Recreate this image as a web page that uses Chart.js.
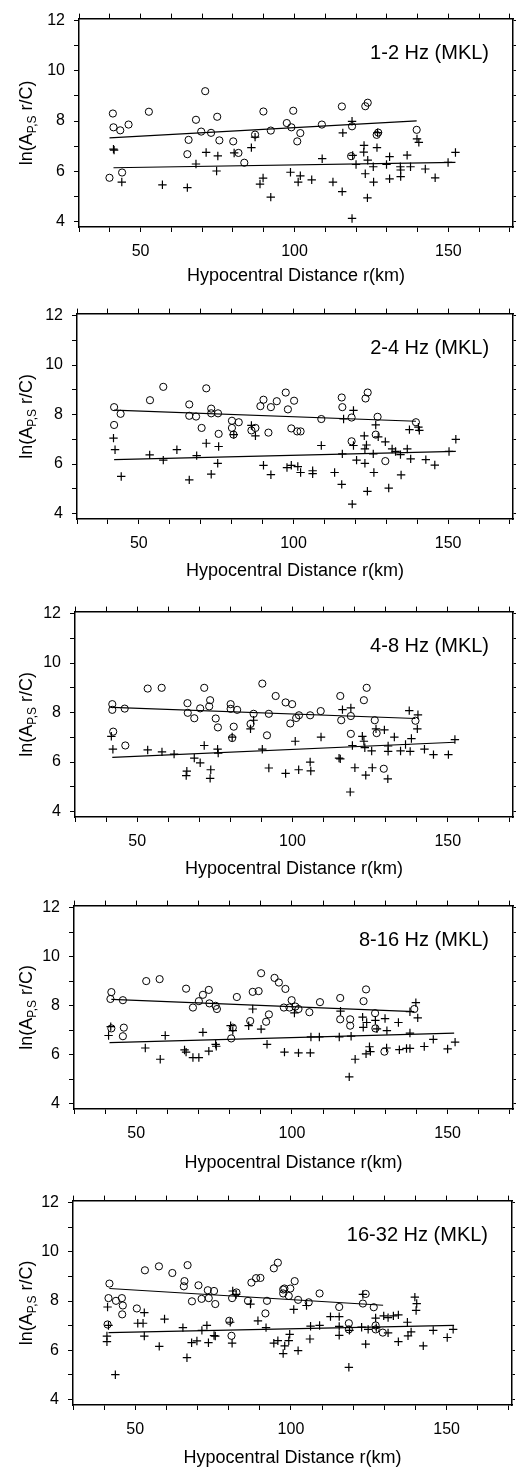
<!DOCTYPE html>
<html>
<head>
<meta charset="utf-8">
<script src="https://cdn.jsdelivr.net/npm/chart.js@4.4.0/dist/chart.umd.min.js"></script>
<style>
  html, body { margin: 0; padding: 0; background: #fff; }
  #wrap { position: relative; width: 520px; height: 1467px; }
  canvas { position: absolute; left: 0; }
</style>
</head>
<body>
<div id="wrap"></div>
<script>
// ---- data: [distance km, ln(A r/C)] ----
const bandLabels = ["1-2 Hz (MKL)", "2-4 Hz (MKL)", "4-8 Hz (MKL)", "8-16 Hz (MKL)", "16-32 Hz (MKL)"];
const xTitle = "Hypocentral Distance r(km)";
const yTitleParts = ["ln(A", "P,S", " r/C)"];
const xTicks = [30, 40, 50, 60, 70, 80, 90, 100, 110, 120, 130, 140, 150, 160, 170];
const xLabelTicks = [50, 100, 150];
const yTicks = [4, 5, 6, 7, 8, 9, 10, 11, 12];
const yLabelTicks = [4, 6, 8, 10, 12];

// circles (one phase) and crosses (other phase), per band
const band1Circles = [[39.9,5.74],[41,8.3],[41.2,7.75],[43.4,7.63],[44,5.95],[46.1,7.86],[52.7,8.37],[65.6,7.25],[65.2,6.68],[68,8.05],[69.7,7.58],[71,9.19],[72.9,7.53],[74.9,8.17],[75.6,7.23],[80.1,7.19],[81.8,6.73],[83.7,6.34],[87.2,7.46],[89.9,8.38],[92.3,7.62],[97.5,7.92],[99,7.75],[99.6,8.41],[100.9,7.19],[101.9,7.52],[108.9,7.86],[115.4,8.58],[118.4,6.6],[118.7,7.79],[123,8.59],[123.8,8.73],[126.7,7.45],[127.2,7.54],[139.7,7.65]];
const band1Crosses = [[41.2,6.88],[41.4,6.84],[43.9,5.57],[57.1,5.46],[65.2,5.35],[68,6.29],[71.3,6.75],[75.1,6.61],[74.7,6.01],[80.4,6.73],[86,6.94],[87.2,7.36],[88.8,5.49],[89.8,5.73],[92.3,4.97],[98.7,5.96],[101.9,5.82],[101.2,5.57],[105.6,5.66],[109,6.5],[112.5,5.57],[115.5,5.19],[115.7,7.53],[118.7,4.12],[118.7,7.99],[118.9,6.63],[120,6.27],[122.6,7.03],[122.5,6.76],[123,5.9],[123.7,4.94],[123.8,6.44],[125.6,6.18],[125.7,5.57],[126.8,6.94],[127,7.54],[129.9,6.27],[130.9,6.58],[130.9,5.7],[134.4,6.18],[134.5,6.05],[134.5,5.79],[136.6,6.64],[137.7,6.18],[139.8,7.29],[140.4,7.15],[142.5,6.09],[145.7,5.74],[149.9,6.35],[152.3,6.75]];
const band1CircleFit = [[39.9,7.33],[139.7,8.01]];
const band1CrossFit = [[41.2,6.14],[152.3,6.35]];

const band2Circles = [[42,8.3],[42,7.58],[44.1,8.03],[53.6,8.58],[57.9,9.12],[66.3,8.41],[66.3,7.95],[68.5,7.92],[70.3,7.46],[71.8,9.06],[73.4,8.24],[73.4,8.05],[75.6,8.05],[75.8,7.22],[80.1,7.75],[80.1,7.46],[80.6,7.19],[82.3,7.69],[86.4,7.36],[87.7,7.46],[89.3,8.34],[90.3,8.6],[91.9,7.27],[92.7,8.3],[94.6,8.54],[97.5,8.89],[98.2,8.21],[99.3,7.44],[100.2,8.56],[101.2,7.32],[102.3,7.32],[109,7.82],[115.6,8.69],[115.8,8.3],[118.8,7.88],[118.8,6.92],[123.3,8.65],[124,8.89],[126.6,7.19],[127.2,7.91],[129.7,6.12],[139.6,7.69]];
const band2Crosses = [[41.8,7.05],[42.3,6.58],[44.3,5.5],[53.5,6.37],[57.9,6.16],[62.3,6.58],[66.3,5.36],[68.7,6.34],[71.8,6.84],[73.4,5.59],[75.5,6.03],[75.8,6.71],[80.7,7.19],[86.4,7.56],[87.7,7.14],[90.3,5.95],[92.7,5.57],[97.9,5.86],[99.3,5.95],[101.4,5.9],[102.3,5.66],[106.2,5.73],[106.2,5.61],[109,6.75],[113.3,5.66],[115.6,5.18],[115.8,6.41],[116.2,7.82],[119,4.38],[119.4,8.17],[119.4,6.75],[120.4,6.16],[122.9,7.14],[123.1,6.61],[123.1,6.03],[123.6,6.77],[123.9,4.9],[125.8,6.41],[126,5.66],[126.6,7.58],[127.4,7.1],[129.7,6.9],[130.8,5.03],[131.9,6.61],[133,6.51],[134.6,6.38],[134.8,5.56],[136.8,6.61],[137.5,7.39],[137.9,6.21],[140.4,7.49],[140.7,7.36],[142.8,6.18],[145.7,5.96],[150.3,6.51],[152.5,7]];
const band2CircleFit = [[42,8.18],[139.6,7.73]];
const band2CrossFit = [[42,6.18],[152.5,6.51]];

const band3Circles = [[42,8.34],[42,8.11],[42.3,7.23],[46,8.16],[46.2,6.67],[53.4,8.97],[57.9,9],[66.2,8.38],[66.3,7.99],[68.4,7.77],[70.3,8.17],[71.6,9],[73.5,8.5],[73.2,8.25],[75.3,7.76],[76,7.4],[80.1,8.34],[80.1,8.15],[81.1,7.43],[80.6,6.97],[82.2,8.11],[86.5,7.54],[87.5,7.95],[90.3,9.17],[91.8,7.08],[92.4,7.95],[94.6,8.67],[97.8,8.41],[99.9,8.34],[99.3,7.56],[101.2,7.78],[102.1,7.89],[105.7,7.89],[109.1,8.06],[115.4,8.67],[115.7,7.69],[118.8,7.14],[118.8,7.86],[123,8.5],[123.9,9],[126.5,7.69],[127.1,7.17],[129.4,5.73],[139.6,7.67]];
const band3Crosses = [[41.7,7.04],[42.2,6.52],[53.4,6.49],[58,6.41],[61.9,6.32],[66,5.63],[65.8,5.45],[68.4,6.16],[70.3,5.97],[71.6,6.67],[73.7,5.69],[73.5,5.34],[75.9,6.52],[76.1,6.36],[80.6,7.01],[86.5,7.34],[87.5,7.69],[90.3,6.52],[92.4,5.76],[97.8,5.54],[100.9,6.84],[102,5.69],[105.7,6],[105.9,5.64],[109.2,7.01],[115,6.16],[115.4,6.13],[116.1,8.12],[118.8,8.19],[118.6,4.79],[119.3,6.67],[120.1,5.77],[122.5,7.04],[123,6.84],[123.6,5.47],[123.3,6.58],[125.5,6.45],[125.7,5.77],[126.9,7.34],[129.6,7.3],[130.8,6.65],[130.8,6.43],[130.7,5.32],[132.8,7.01],[134.8,6.45],[136.4,6.71],[137.6,8.08],[138.3,6.95],[137.9,6.43],[140.4,7.91],[140.2,7.34],[142.5,6.52],[145.4,6.3],[150.2,6.3],[152.3,6.91]];
const band3CircleFit = [[42,8.21],[139.6,7.76]];
const band3CrossFit = [[42,6.19],[152.3,6.8]];

const band4Circles = [[42,8.55],[41.7,8.27],[42,7.07],[45.7,8.22],[46,7.1],[45.7,6.75],[53.2,9],[57.5,9.08],[66,8.69],[68.2,7.92],[70.1,8.18],[71.4,8.44],[73.3,8.64],[73.5,8.09],[75.5,7.99],[75.9,7.86],[80.5,6.66],[81,7.1],[82.3,8.35],[86.6,7.37],[87.4,8.56],[89.3,8.59],[90.1,9.32],[91.7,7.34],[92.6,7.64],[94.4,9.13],[95.8,8.94],[97.9,8.68],[97.4,7.92],[99.2,7.92],[99.9,8.22],[101.1,7.96],[102.1,7.86],[105.6,7.73],[109,8.14],[115.5,8.31],[115.5,7.44],[118.7,7.44],[118.7,7.18],[123,8.18],[123.8,8.66],[126.7,7.69],[126.8,7.07],[129.7,6.12],[139.3,7.86]];
const band4Crosses = [[41.8,7.14],[41.1,6.78],[59.3,6.78],[52.9,6.27],[57.7,5.81],[65.5,6.19],[66,6.1],[68.2,5.88],[70.1,5.88],[71.4,6.91],[73.3,6.14],[75.5,6.42],[75.7,6.34],[80.3,7.18],[81,6.98],[86.1,7.18],[87.4,7.86],[90.1,7.04],[92,6.42],[97.6,6.1],[102.1,6.07],[100.8,7.7],[105.9,6.07],[106.1,6.72],[108.8,6.72],[115.2,6.72],[115.6,7.77],[118.4,5.09],[119,6.75],[120.3,5.81],[122.7,7.53],[122.9,7.11],[123.8,6.03],[124,7.31],[124.9,6.32],[125.2,6.12],[126.8,7.4],[127.3,7.05],[129.9,7.47],[130.5,6.98],[130.4,6.27],[134.2,7.31],[134.5,6.2],[136.8,6.25],[137.9,6.25],[137.9,6.88],[137.9,7.75],[139.8,8.12],[140.4,7.5],[142.5,6.33],[145.4,6.62],[150,6.23],[152.4,6.51]];
const band4CircleFit = [[42,8.25],[139.3,7.75]];
const band4CrossFit = [[41.4,6.49],[152.1,6.88]];

const band5Circles = [[41.7,8.71],[41.4,8.12],[41.1,7.05],[43.8,8.01],[45.7,8.12],[46,7.82],[45.8,7.46],[50.5,7.7],[53.1,9.25],[57.6,9.41],[61.9,9.14],[65.8,8.81],[65.6,8.6],[66.8,9.46],[68.2,7.99],[70.3,8.64],[71.3,8.09],[73.3,8.44],[73.6,8.12],[75.3,8.41],[75.7,7.88],[80.2,7.2],[80.9,6.59],[81.1,8.12],[82.5,8.35],[86.2,8.01],[87.3,8.75],[88.8,8.93],[90.2,8.94],[91.8,7.5],[92.3,8.01],[94.5,9.33],[95.8,9.56],[97.5,8.47],[97.5,8.31],[97.9,8.51],[99.8,8.51],[99.3,8.21],[101.2,8.81],[102.3,8.05],[105.7,7.95],[109.2,8.31],[115.5,7.76],[118.6,7.1],[118.6,6.85],[123.1,7.9],[124,8.29],[126.6,7.75],[127.2,7.01],[127.2,6.85],[129.5,6.72]];
const band5Crosses = [[41.1,7.76],[41.4,7.01],[40.9,6.58],[40.9,6.35],[43.6,5.01],[50.8,7.1],[52.5,7.1],[52.9,7.53],[52.9,6.58],[59.4,7.27],[57.7,6.16],[65.3,6.92],[66.6,5.7],[68.1,6.31],[69.8,6.38],[71.4,6.81],[73,7.01],[73.5,6.31],[75.7,6.58],[75.3,6.6],[80.5,7.14],[81.1,6.29],[81.3,8.41],[82.4,8.27],[87,7.88],[89.4,7.2],[92,6.92],[94.5,6.29],[95.8,6.39],[97.5,5.87],[98,6.18],[99.3,6.39],[99.6,6.65],[100.9,7.66],[102.3,5.99],[105,7.82],[106.1,6.46],[106.3,6.98],[109.2,7.01],[112.7,7.37],[115.5,7.37],[115.5,6.61],[115.5,6.97],[118.6,5.31],[118.8,6.81],[122.7,6.94],[123.1,8.27],[124,6.25],[124.8,6.85],[127.2,7.31],[127.4,6.92],[129.8,7.4],[131.2,7.33],[131.2,6.71],[132.9,7.4],[134.5,7.44],[134.5,6.35],[137.4,7.14],[137.6,6.59],[138.6,6.75],[139.8,8.16],[140.4,7.9],[140.2,7.62],[142.5,6.18],[145.7,6.81],[150.2,6.52],[152.1,6.85]];
const band5CircleFit = [[41.7,8.51],[129.6,7.83]];
const band5CrossFit = [[41.4,6.72],[152.4,7.01]];

const circles = [band1Circles, band2Circles, band3Circles, band4Circles, band5Circles];
const crosses = [band1Crosses, band2Crosses, band3Crosses, band4Crosses, band5Crosses];
const circleFits = [band1CircleFit, band2CircleFit, band3CircleFit, band4CircleFit, band5CircleFit];
const crossFits = [band1CrossFit, band2CrossFit, band3CrossFit, band4CrossFit, band5CrossFit];

// ---- layout (pixels) ----
const W = 520, H = 285;
const panelTop = [0, 295, 593, 887, 1182];
const boxTop = 13;
const boxLeft = [79, 77, 75, 74, 73];
const boxRight = [517, 518, 513, 513, 512];
const boxBottom = [227, 224, 224, 222, 223];
const FONT = '"Liberation Sans", Arial, Helvetica, sans-serif';

const toPts = (arr) => arr.map(([x, y]) => ({ x, y }));

// band label inside the frame and the y title with its subscript
const panelText = {
  id: "panelText",
  afterDraw(chart, args, opts) {
    const { ctx, chartArea: a } = chart;
    ctx.save();
    ctx.fillStyle = "#000";
    ctx.font = "20px " + FONT;
    ctx.textAlign = "right";
    ctx.textBaseline = "alphabetic";
    ctx.fillText(opts.band, a.right - 24, a.top + 40);

    // rotated y title
    const big = "18px " + FONT, small = "12px " + FONT;
    const parts = [[yTitleParts[0], big, 0], [yTitleParts[1], small, 4], [yTitleParts[2], big, 0]];
    let total = 0;
    parts.forEach((p) => { ctx.font = p[1]; p.push(ctx.measureText(p[0]).width); total += p[3]; });
    ctx.translate(25, (a.top + a.bottom) / 2);
    ctx.rotate(-Math.PI / 2);
    ctx.textAlign = "left";
    let x = -total / 2;
    parts.forEach((p) => {
      ctx.font = p[1];
      ctx.fillText(p[0], x, 6.5 + p[2]);
      x += p[3];
    });
    ctx.restore();
  },
};

const axisLine = { color: "#000", width: 1.5 };
const tickGrid = { drawOnChartArea: false, color: "#000", tickLength: 5, lineWidth: 1 };

function makePanel(i) {
  const canvas = document.createElement("canvas");
  canvas.width = W;
  canvas.height = H;
  canvas.style.top = panelTop[i] + "px";
  document.getElementById("wrap").appendChild(canvas);

  const xRange = { min: 30, max: 171 };
  const yRange = { min: 3.78, max: 12.08 };
  const setX = (s) => { s.ticks = xTicks.map((v) => ({ value: v })); };
  const setY = (s) => { s.ticks = yTicks.map((v) => ({ value: v })); };

  new Chart(canvas, {
    type: "scatter",
    data: {
      datasets: [
        {
          data: toPts(circles[i]),
          pointStyle: "circle",
          pointRadius: 3.6,
          borderWidth: 1,
          borderColor: "#000",
          backgroundColor: "rgba(0,0,0,0)",
        },
        {
          data: toPts(crosses[i]),
          pointStyle: "cross",
          pointRadius: 4.2,
          borderWidth: 1.2,
          borderColor: "#000",
        },
        {
          data: toPts(circleFits[i]),
          showLine: true,
          pointRadius: 0,
          borderColor: "#000",
          borderWidth: 1.2,
        },
        {
          data: toPts(crossFits[i]),
          showLine: true,
          pointRadius: 0,
          borderColor: "#000",
          borderWidth: 1.2,
        },
      ],
    },
    options: {
      responsive: false,
      animation: false,
      devicePixelRatio: 1,
      events: [],
      layout: { padding: 0, autoPadding: false },
      plugins: {
        legend: { display: false },
        tooltip: { enabled: false },
        panelText: { band: bandLabels[i] },
      },
      scales: {
        x: {
          type: "linear",
          position: "bottom",
          ...xRange,
          afterBuildTicks: setX,
          afterFit: (s) => { s.height = H - boxBottom[i]; },
          ticks: {
            autoSkip: false,
            maxRotation: 0,
            padding: 10,
            color: "#000",
            font: { family: FONT, size: 16 },
            callback: (v) => (xLabelTicks.includes(v) ? String(v) : ""),
          },
          grid: tickGrid,
          border: axisLine,
          title: {
            display: true,
            text: xTitle,
            color: "#000",
            font: { family: FONT, size: 18, lineHeight: 1 },
            padding: { top: 0, bottom: 0 },
          },
        },
        xTop: {
          type: "linear",
          position: "top",
          ...xRange,
          afterBuildTicks: setX,
          afterFit: (s) => { s.height = boxTop; },
          ticks: { display: false, autoSkip: false },
          grid: tickGrid,
          border: axisLine,
        },
        y: {
          type: "linear",
          position: "left",
          ...yRange,
          afterBuildTicks: setY,
          afterFit: (s) => { s.width = boxLeft[i]; },
          ticks: {
            autoSkip: false,
            padding: 9,
            color: "#000",
            font: { family: FONT, size: 16 },
            callback: (v) => (yLabelTicks.includes(v) ? String(v) : ""),
          },
          grid: tickGrid,
          border: axisLine,
        },
        yRight: {
          type: "linear",
          position: "right",
          ...yRange,
          afterBuildTicks: setY,
          afterFit: (s) => { s.width = W - boxRight[i]; },
          ticks: { display: false, autoSkip: false },
          grid: { ...tickGrid, tickLength: 3 },
          border: axisLine,
        },
      },
    },
    plugins: [panelText],
  });
}

for (let i = 0; i < bandLabels.length; i++) makePanel(i);
</script>
</body>
</html>
